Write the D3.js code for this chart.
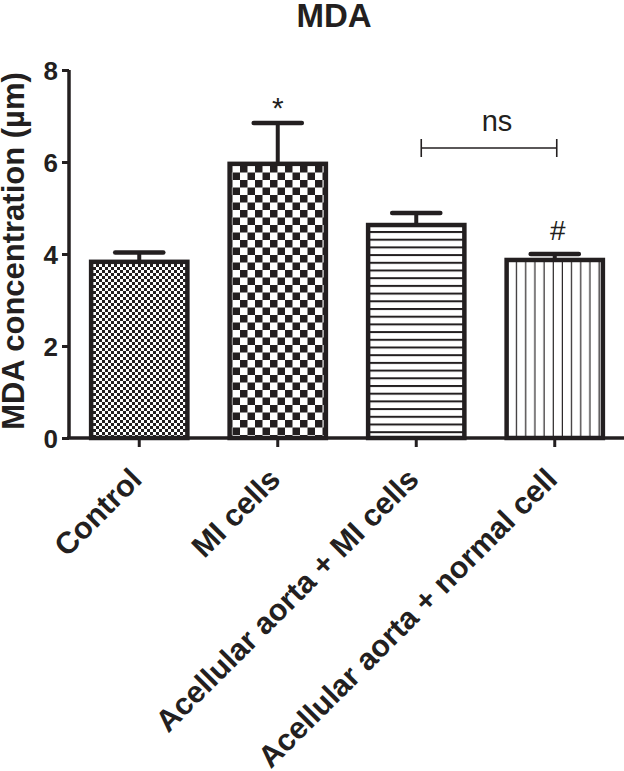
<!DOCTYPE html>
<html>
<head>
<meta charset="utf-8">
<script src="https://cdnjs.cloudflare.com/ajax/libs/d3/7.8.5/d3.min.js"></script>
<style>
  body { margin: 0; background: #fff; }
  text { font-family: "Liberation Sans", Arial, sans-serif; fill: #231f20; }
</style>
</head>
<body>
<div id="chart"></div>
<script>
var width = 624;
var height = 771;

// data
var groups = ["Control", "MI cells", "Acellular aorta + MI cells", "Acellular aorta + normal cell"];
var means = [3.83, 5.96, 4.63, 3.87];
var errors = [0.20, 0.89, 0.26, 0.13];
var marks = ["", "*", "", "#"];
var yTicks = [0, 2, 4, 6, 8];

var ink = "#231f20";

var x = d3.scaleBand()
  .domain(groups)
  .range([70, 624])
  .paddingInner(0.305)
  .paddingOuter(0.1525);

var y = d3.scaleLinear()
  .domain([0, 8])
  .range([438, 70]);

var svg = d3.select("#chart")
  .append("svg")
  .attr("width", width)
  .attr("height", height);

svg.append("rect")
  .attr("width", "100%")
  .attr("height", "100%")
  .attr("fill", "white");

// fill patterns
var defs = svg.append("defs");

var fine = defs.append("pattern")
  .attr("id", "fineCheck")
  .attr("patternUnits", "userSpaceOnUse")
  .attr("width", 6).attr("height", 6);
fine.append("rect").attr("width", 6).attr("height", 6).attr("fill", "white");
fine.append("rect").attr("width", 3).attr("height", 3).attr("fill", ink);
fine.append("rect").attr("x", 3).attr("y", 3).attr("width", 3).attr("height", 3).attr("fill", ink);

var big = defs.append("pattern")
  .attr("id", "bigCheck")
  .attr("patternUnits", "userSpaceOnUse")
  .attr("width", 15).attr("height", 15);
big.append("rect").attr("width", 15).attr("height", 15).attr("fill", "white");
big.append("rect").attr("width", 7.5).attr("height", 7.5).attr("fill", ink);
big.append("rect").attr("x", 7.5).attr("y", 7.5).attr("width", 7.5).attr("height", 7.5).attr("fill", ink);

var hLines = defs.append("pattern")
  .attr("id", "hLines")
  .attr("patternUnits", "userSpaceOnUse")
  .attr("width", 10).attr("height", 7.7);
hLines.append("rect").attr("width", 10).attr("height", 7.7).attr("fill", "white");
hLines.append("rect").attr("y", 0).attr("width", 10).attr("height", 2).attr("fill", ink);

var vLines = defs.append("pattern")
  .attr("id", "vLines")
  .attr("patternUnits", "userSpaceOnUse")
  .attr("x", 508)
  .attr("width", 9.17).attr("height", 10);
vLines.append("rect").attr("width", 9.17).attr("height", 10).attr("fill", "white");
vLines.append("rect").attr("x", 8).attr("width", 2.1).attr("height", 10).attr("fill", ink);

var fills = ["url(#fineCheck)", "url(#bigCheck)", "url(#hLines)", "url(#vLines)"];

var rows = groups.map(function(g, i) {
  return { name: g, mean: means[i], err: errors[i], mark: marks[i], fill: fills[i] };
});

// error bars (drawn first, bar covers lower part)
var eb = svg.append("g").selectAll("g")
  .data(rows)
  .enter().append("g");

eb.append("line")
  .attr("x1", function(d) { return x(d.name) + x.bandwidth() / 2; })
  .attr("x2", function(d) { return x(d.name) + x.bandwidth() / 2; })
  .attr("y1", function(d) { return y(d.mean); })
  .attr("y2", function(d) { return y(d.mean + d.err); })
  .attr("stroke", ink)
  .attr("stroke-width", 4);

eb.append("line")
  .attr("x1", function(d) { return x(d.name) + x.bandwidth() / 4; })
  .attr("x2", function(d) { return x(d.name) + x.bandwidth() * 3 / 4; })
  .attr("y1", function(d) { return y(d.mean + d.err); })
  .attr("y2", function(d) { return y(d.mean + d.err); })
  .attr("stroke", ink)
  .attr("stroke-width", 4.5)
  .attr("stroke-linecap", "round");

// bars
svg.append("g").selectAll("rect")
  .data(rows)
  .enter().append("rect")
  .attr("x", function(d) { return x(d.name); })
  .attr("y", function(d) { return y(d.mean); })
  .attr("width", x.bandwidth())
  .attr("height", function(d) { return y(0) - y(d.mean); })
  .attr("fill", function(d) { return d.fill; })
  .attr("stroke", ink)
  .attr("stroke-width", 4.5);

// axes
var yAxis = svg.append("g")
  .attr("transform", "translate(69,0)")
  .call(d3.axisLeft(y).tickValues(yTicks).tickSize(7).tickPadding(4).tickFormat(d3.format("d")));
yAxis.select(".domain").attr("stroke", ink).attr("stroke-width", 3.5)
  .attr("d", "M0," + y(8) + "V" + y(0));
yAxis.selectAll(".tick line").attr("stroke", ink).attr("stroke-width", 3);
yAxis.selectAll(".tick text")
  .attr("fill", ink)
  .style("font-size", "26px")
  .style("font-weight", "bold")
  .attr("dy", "0.36em");

var xAxis = svg.append("g")
  .attr("transform", "translate(0," + y(0) + ")")
  .call(d3.axisBottom(x).tickSize(9).tickFormat(""));
xAxis.select(".domain").attr("stroke", ink).attr("stroke-width", 3.5)
  .attr("d", "M67,0H624");
xAxis.selectAll(".tick line").attr("stroke", ink).attr("stroke-width", 3);

// rotated category labels
svg.append("g").selectAll("text")
  .data(groups)
  .enter().append("text")
  .attr("transform", function(d) {
    return "translate(" + (x(d) + x.bandwidth() / 2 - 11) + ",466) rotate(-45)";
  })
  .attr("text-anchor", "end")
  .attr("dy", "0.71em")
  .style("font-size", "30.5px")
  .style("font-weight", "bold")
  .text(function(d) { return d; });

// y label
svg.append("text")
  .attr("transform", "translate(24,251) rotate(-90)")
  .attr("text-anchor", "middle")
  .style("font-size", "31px")
  .style("font-weight", "bold")
  .text("MDA concentration (µm)");

// title
svg.append("text")
  .attr("x", 334)
  .attr("y", 27)
  .attr("text-anchor", "middle")
  .style("font-size", "33px")
  .style("font-weight", "bold")
  .text("MDA");

// significance marks
svg.append("g").selectAll("text")
  .data(rows.filter(function(d) { return d.mark; }))
  .enter().append("text")
  .attr("x", function(d) { return x(d.name) + x.bandwidth() / 2 + (d.mark == "#" ? 3 : 0); })
  .attr("y", function(d) { return y(d.mean + d.err) - (d.mark == "*" ? 5 : 14); })
  .attr("text-anchor", "middle")
  .style("font-size", function(d) { return d.mark == "*" ? "30px" : "28px"; })
  .text(function(d) { return d.mark; });

// ns bracket between the two acellular groups
var bx1 = x(groups[2]) + x.bandwidth() / 2 + 5;
var bx2 = x(groups[3]) + x.bandwidth() / 2 + 2;
var by = 148;
var br = svg.append("g").attr("stroke", ink).attr("stroke-width", 1.6);
br.append("line").attr("x1", bx1).attr("x2", bx2).attr("y1", by).attr("y2", by);
br.append("line").attr("x1", bx1).attr("x2", bx1).attr("y1", by - 9).attr("y2", by + 9);
br.append("line").attr("x1", bx2).attr("x2", bx2).attr("y1", by - 9).attr("y2", by + 9);

svg.append("text")
  .attr("x", (bx1 + bx2) / 2 + 8)
  .attr("y", 131)
  .attr("text-anchor", "middle")
  .style("font-size", "29px")
  .text("ns");
</script>
</body>
</html>
